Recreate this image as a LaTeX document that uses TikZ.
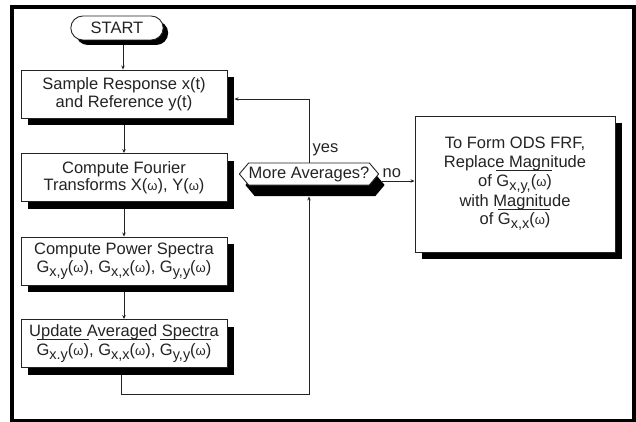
\documentclass[tikz,border=0pt]{standalone}
\usepackage{fontspec}
\setmainfont{Liberation Sans}
\usetikzlibrary{shapes.misc, shapes.symbols}
\usetikzlibrary{arrows.meta}
\usetikzlibrary{calc, shadows}
\definecolor{linie}{RGB}{35,35,35}

\newcommand{\idx}[1]{\raisebox{-4pt}{\fontsize{14.5}{14.5}\selectfont #1}}
\newcommand{\om}{({\fontsize{13}{13}\selectfont ω})}
\newcommand{\avgd}[1]{$\overline{\mbox{\rule{0pt}{14.5pt}#1}}$}

\tikzset{
  kasten/.style={draw, fill=white, line width=0.9pt, align=center, minimum width=206, minimum height=48, inner sep=2pt,
    drop shadow={shadow xshift=7pt, shadow yshift=-7pt, fill=black, opacity=1}},
  startbox/.style={rounded rectangle, draw, fill=white, line width=0.9pt, minimum width=99, minimum height=24,
    drop shadow={shadow xshift=5pt, shadow yshift=-5pt, fill=black, opacity=1}},
  hexa/.style={signal, signal to=west and east, signal pointer angle=100, draw, fill=white, line width=0.9pt,
    minimum width=135, minimum height=22, inner sep=0pt,
    drop shadow={shadow xshift=6pt, shadow yshift=-11pt, fill=black, opacity=1}},
  flow/.style={line width=0.8pt, -{Stealth[length=4pt, width=3.5pt]}},
}

\begin{document}
\begin{tikzpicture}[x=1pt, y=-1pt, font=\fontsize{16.5}{17.5}\selectfont, linie]

    \useasboundingbox (0,0) rectangle (636,422);
    \draw[line width=3.5pt, black] (12,7) rectangle (634,420.5);

    % left column
    \node[startbox] (start) at (117,28) {START};
    \node[kasten] (samp) at (124,94) {Sample Response x(t)\\and Reference y(t)};
    \node[kasten] (four) at (124,177.5) {Compute Fourier\\Transforms X\om, Y\om};
    \node[kasten] (power) at (124,261) {Compute Power Spectra\\G\idx{x,y}\om, G\idx{x,x}\om, G\idx{y,y}\om};
    \node[kasten] (upd) at (124,343.5) {Update Averaged Spectra\\[-2pt]\avgd{G\idx{x.y}\om}, \avgd{G\idx{x,x}\om}, \avgd{G\idx{y,y}\om}};

    % decision and result
    \node[hexa] (avg) at (309,174) {More Averages?};
    \node[kasten, minimum width=200, minimum height=136, font=\fontsize{16.5}{18.5}\selectfont] (ods) at (515,184)
        {To Form ODS FRF,\\Replace Magnitude\\[-2pt]of \avgd{G\idx{x,y,}\om}\\with Magnitude\\[-2pt]of \avgd{G\idx{x,x}\om}};

    \draw[flow] ($(start.south)+(6,5)$) -- ($(samp.north)+(-1,0)$);
    \draw[flow] ($(samp.south)+(0,7)$) -- (four);
    \draw[flow] ($(four.south)+(0,7)$) -- (power);
    \draw[flow] ($(power.south)+(0,7)$) -- (upd);

    \draw[flow] ($(upd.south)+(-3,7)$) -- ++(0,19) -| ($(avg.south)+(0,11)$);
    \draw[flow] (avg.north) |- node[pos=0.1, right] {yes} ($(samp.east)+(7,5)$);

    \coordinate (nein) at ($(avg.east)+(3,7)$);
    \draw[flow] (nein) -- node[pos=0.3, above] {no} (nein -| ods.west);

\end{tikzpicture}
\end{document}
